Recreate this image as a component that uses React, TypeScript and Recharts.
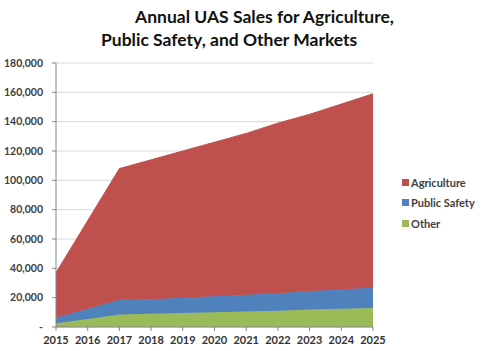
import { AreaChart, Area, XAxis, YAxis, CartesianGrid } from 'recharts'

const years = ['2015', '2016', '2017', '2018', '2019', '2020', '2021', '2022', '2023', '2024', '2025']
const agriculture = [30500, 60000, 89500, 95000, 100000, 105000, 110000, 116000, 120500, 126500, 132000]
const publicSafety = [4000, 7000, 10000, 10000, 10500, 11000, 11500, 12000, 12500, 13000, 14000]
const other = [2500, 5500, 8500, 9000, 9500, 10000, 10500, 11000, 12000, 12500, 13000]
const yTicks = [0, 20000, 40000, 60000, 80000, 100000, 120000, 140000, 160000, 180000]

const series = [
  { key: 'agriculture', name: 'Agriculture', color: '#C0504D' },
  { key: 'publicSafety', name: 'Public Safety', color: '#4F81BD' },
  { key: 'other', name: 'Other', color: '#9BBB59' },
]

const data = years.map((year, i) => ({
  year,
  agriculture: agriculture[i],
  publicSafety: publicSafety[i],
  other: other[i],
}))

const font = 'Lato, "Open Sans", sans-serif'

const formatY = (v: number) => (v === 0 ? '-' : v.toLocaleString('en-US'))

function LegendBox() {
  return (
    <div
      style={{
        position: 'absolute',
        left: 402,
        top: 172,
        fontFamily: font,
        fontWeight: 700,
        fontSize: 11,
        color: '#404040',
      }}
    >
      {series.map((s) => (
        <div key={s.key} style={{ display: 'flex', alignItems: 'center', height: 20.5 }}>
          <span style={{ width: 7, height: 7, background: s.color, marginRight: 2 }} />
          {s.name}
        </div>
      ))}
    </div>
  )
}

export default function App() {
  return (
    <div style={{ position: 'absolute', left: 0, top: 0, width: 485, height: 351, background: '#fff' }}>
      <div
        style={{
          position: 'absolute',
          top: 5,
          left: 0,
          width: 485,
          fontFamily: font,
          fontWeight: 700,
          fontSize: 17.5,
          lineHeight: '23px',
          color: '#111',
        }}
      >
        <div style={{ paddingLeft: 135 }}>Annual UAS Sales for Agriculture,</div>
        <div style={{ paddingLeft: 101 }}>Public Safety, and Other Markets</div>
      </div>
      <AreaChart
        width={485}
        height={351}
        data={data}
        margin={{ top: 63, right: 112, bottom: 4, left: 0 }}
      >
        <CartesianGrid vertical={false} stroke="#D9D9D9" />
        <XAxis
          dataKey="year"
          height={20}
          stroke="#868686"
          tickSize={4}
          tickMargin={5}
          tick={{ fontFamily: font, fontWeight: 700, fontSize: 11, fill: '#333' }}
        />
        <YAxis
          width={56}
          domain={[0, 180000]}
          ticks={yTicks}
          tickFormatter={formatY}
          stroke="#868686"
          tickSize={4}
          tickMargin={9}
          tick={{ fontFamily: font, fontWeight: 700, fontSize: 10.5, fill: '#404040' }}
        />
        {[...series].reverse().map((s) => (
          <Area
            key={s.key}
            type="linear"
            dataKey={s.key}
            name={s.name}
            stackId="1"
            stroke={s.color}
            fill={s.color}
            fillOpacity={1}
            isAnimationActive={false}
          />
        ))}
      </AreaChart>
      <LegendBox />
    </div>
  )
}
